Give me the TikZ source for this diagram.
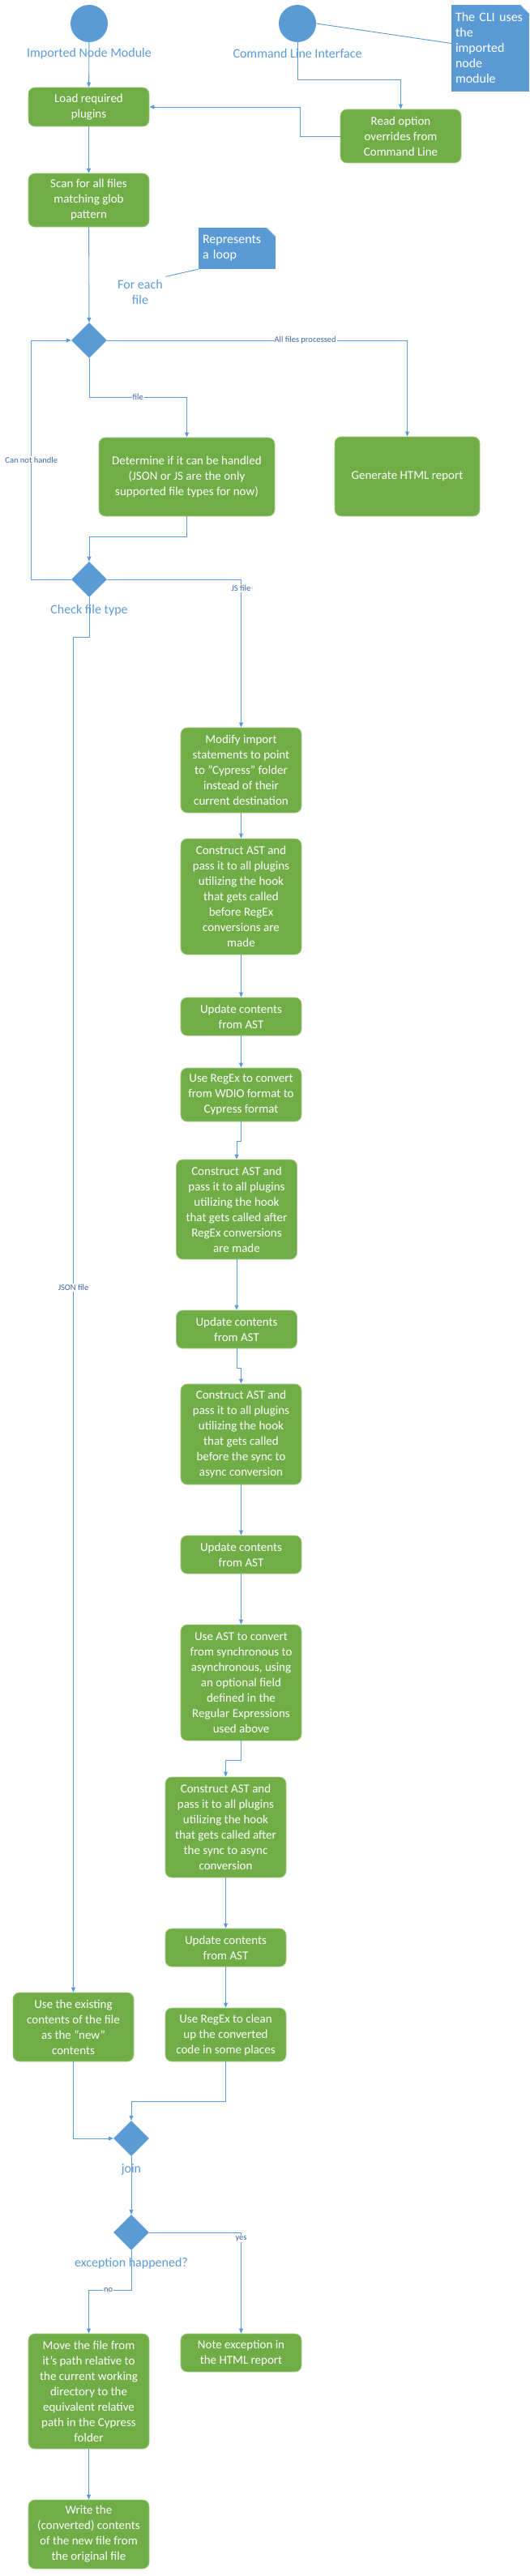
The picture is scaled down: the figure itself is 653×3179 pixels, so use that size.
\documentclass[tikz,border=0pt]{standalone}
\usepackage{fontspec}
\setmainfont{Carlito}
\usetikzlibrary{shapes.geometric,arrows.meta}
\definecolor{actgreen}{HTML}{70AD47}
\definecolor{actedge}{HTML}{A3CB85}
\definecolor{umlblue}{HTML}{5B9BD5}
\definecolor{guardblue}{HTML}{3D68A6}
\tikzset{
  action/.style={rectangle, rounded corners=8pt, fill=actgreen, draw=actedge, line width=0.8pt,
    text=white, align=center, minimum width=149pt, inner sep=2pt, font=\fontsize{15}{19}\selectfont},
  decision/.style={diamond, fill=umlblue, minimum width=44pt, minimum height=44pt, inner sep=0pt},
  initial/.style={circle, fill=umlblue, minimum size=46pt, inner sep=0pt},
  caption/.style={text=umlblue, font=\fontsize{16}{19}\selectfont},
  guard/.style={fill=white, text=guardblue, inner sep=1pt, font=\fontsize{10.5}{12}\selectfont},
  memo/.style={fill=umlblue, text=white, align=left, inner xsep=5pt, inner ysep=0pt,
    font=\fontsize{16}{19}\selectfont},
  flow/.style={draw=umlblue, line width=0.9pt, -{Triangle[width=5pt,length=6pt]}},
  link/.style={draw=umlblue, line width=0.9pt}
}

\begin{document}
\begin{tikzpicture}[x=1pt, y=-1pt]
\useasboundingbox (0,0) rectangle (653,3179);

% start nodes
\node[initial] (imp) at (110,29) {};
\node[initial] (cli) at (367,29) {};
\node[caption] (impcap) at (110,66) {Imported Node Module};
\node[caption] (clicap) at (367,66) {Command Line Interface};

% notes
\node[memo, text width=86pt, minimum height=107pt] (clinote) at (605,59.5) {The CLI uses\\the\\imported\\node\\module};
\node[memo, text width=85pt, minimum height=51pt] (loopnote) at (292.5,306.5) {Represents\\a loop};
\foreach \n in {clinote, loopnote} {
  \fill[white] ([xshift=-11pt]\n.north east) -- (\n.north east) -- ([yshift=-11pt]\n.north east) -- cycle;
  \draw[umlblue!40, line width=0.6pt] ([xshift=-11pt]\n.north east) -- ([yshift=-11pt]\n.north east);
}
\node[caption, align=center] (foreach) at (173,360) {For each\\file};

% actions
\node[action, minimum height=48pt] (load) at (109.5,132) {Load required\\plugins};
\node[action, minimum height=66pt] (opts) at (494.5,168) {Read option\\overrides from\\Command Line};
\node[action, minimum height=66pt] (scan) at (109.5,247) {Scan for all files\\matching glob\\pattern};
\node[action, minimum width=217pt, minimum height=97pt] (det) at (230.5,588.5) {Determine if it can be handled\\(JSON or JS are the only\\supported file types for now)};
\node[action, minimum width=179pt, minimum height=98pt] (html) at (502.5,588) {Generate HTML report};
\node[action, minimum height=105pt] (mod) at (297.5,950.5) {Modify import\\statements to point\\to "Cypress" folder\\instead of their\\current destination};
\node[action, minimum height=143pt] (ast1) at (297.5,1106.5) {Construct AST and\\pass it to all plugins\\utilizing the hook\\that gets called\\before RegEx\\conversions are\\made};
\node[action, minimum height=47pt] (upd1) at (297.5,1254.5) {Update contents\\from AST};
\node[action, minimum height=66pt] (rgx) at (297.5,1351) {Use RegEx to convert\\from WDIO format to\\Cypress format};
\node[action, minimum height=123pt] (ast2) at (292,1492.5) {Construct AST and\\pass it to all plugins\\utilizing the hook\\that gets called after\\RegEx conversions\\are made};
\node[action, minimum height=47pt] (upd2) at (292,1640.5) {Update contents\\from AST};
\node[action, minimum height=124pt] (ast3) at (297.5,1770) {Construct AST and\\pass it to all plugins\\utilizing the hook\\that gets called\\before the sync to\\async conversion};
\node[action, minimum height=47pt] (upd3) at (297.5,1918.5) {Update contents\\from AST};
\node[action, minimum height=143pt] (sync) at (297.5,2076.5) {Use AST to convert\\from synchronous to\\asynchronous, using\\an optional field\\defined in the\\Regular Expressions\\used above};
\node[action, minimum height=124pt] (ast4) at (278.5,2255) {Construct AST and\\pass it to all plugins\\utilizing the hook\\that gets called after\\the sync to async\\conversion};
\node[action, minimum height=47pt] (upd4) at (278.5,2403.5) {Update contents\\from AST};
\node[action, minimum height=66pt] (clean) at (278.5,2511) {Use RegEx to clean\\up the converted\\code in some places};
\node[action, minimum height=85pt] (keep) at (90.5,2501.5) {Use the existing\\contents of the file\\as the "new"\\contents};
\node[action, minimum height=142pt] (move) at (109.5,2951) {Move the file from\\it's path relative to\\the current working\\directory to the\\equivalent relative\\path in the Cypress\\folder};
\node[action, minimum height=47pt] (notex) at (297.5,2903.5) {Note exception in\\the HTML report};
\node[action, minimum height=85pt] (write) at (109.5,3127.5) {Write the\\(converted) contents\\of the new file from\\the original file};

% decisions
\node[decision] (loop) at (110,420) {};
\node[decision] (ftype) at (110,715) {};
\node[decision] (join) at (162,2639) {};
\node[decision] (exc) at (162,2755) {};
\node[caption] (ftypecap) at (110,753) {Check file type};
\node[caption] (joincap) at (162,2677) {join};
\node[caption] (exccap) at (162,2793) {exception happened?};

% edges
\draw[link] (cli.east) -- ([yshift=6pt]clinote.west);
\draw[link] (loopnote.south west) -- (foreach.north east);
\draw[flow] (imp) -- (load);
\draw[flow] (cli) |- ([yshift=36pt]opts.north) -- (opts);
\draw[flow] (opts.west) -- ++(-49,0) |- (load.east);
\draw[flow] (load) -- (scan);
\draw[flow] (scan) -- (loop);
\draw[flow] (loop) -| node[guard, pos=0.33] {All files processed} (html);
\draw[flow] (loop.south) -- ++(0,48) -| node[guard, pos=0.25] {file} (det.north);
\draw[flow] (det.south) -- ++(0,25) -| (ftype.north);
\draw[flow] (ftype.west) -- ++(-49,0) |- node[guard, pos=0.25] {Can not handle} (loop.west);
\draw[flow] (ftype.east) -| node[guard, pos=0.53] {JS file} (mod.north);
\draw[flow] (ftype.south) -- ++(0,49) -| node[guard, pos=0.74] {JSON file} (keep.north);
\draw[flow] (mod) -- (ast1);
\draw[flow] (ast1) -- (upd1);
\draw[flow] (upd1) -- (rgx);
\draw[flow] (rgx.south) -- ++(0,24) -| (ast2.north);
\draw[flow] (ast2) -- (upd2);
\draw[flow] (upd2.south) -- ++(0,24) -| (ast3.north);
\draw[flow] (ast3) -- (upd3);
\draw[flow] (upd3) -- (sync);
\draw[flow] (sync.south) -- ++(0,24) -| (ast4.north);
\draw[flow] (ast4) -- (upd4);
\draw[flow] (upd4) -- (clean);
\draw[flow] (keep.south) |- (join.west);
\draw[flow] (clean.south) -- ++(0,49) -| (join.north);
\draw[flow] (join) -- (exc);
\draw[flow] (exc) -| node[guard, pos=0.53] {yes} (notex);
\draw[flow] (exc.south) -- ++(0,49) -| node[guard, pos=0.27] {no} (move.north);
\draw[flow] (move) -- (write);
\end{tikzpicture}
\end{document}
